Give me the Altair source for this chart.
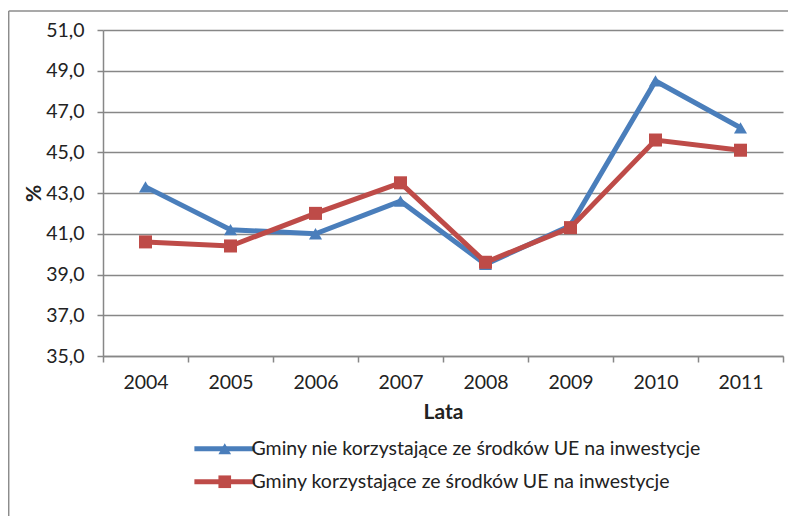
import altair as alt
import pandas as pd

years = ["2004", "2005", "2006", "2007", "2008", "2009", "2010", "2011"]
series_names = [
    "Gminy nie korzystające ze środków UE na inwestycje",
    "Gminy korzystające ze środków UE na inwestycje",
]
marker_keys = ["m1", "m2"]
blue_vals = [43.3, 41.2, 41.0, 42.6, 39.5, 41.4, 48.5, 46.2]
red_vals = [40.6, 40.4, 42.0, 43.5, 39.6, 41.3, 45.6, 45.1]
colors = ["#4A7EBB", "#BE4B48"]
shapes = ["triangle-up", "square"]

rows = []
for s, k, vals in zip(series_names, marker_keys, [blue_vals, red_vals]):
    for y, v in zip(years, vals):
        rows.append({"year": y, "value": v, "series": s, "marker": k})
df = pd.DataFrame(rows)

FONT = "Lato"
TXT = "#222222"
GRAY = "#878787"

x_enc = alt.X(
    "year:O",
    scale=alt.Scale(type="band", paddingInner=0, paddingOuter=0),
    axis=alt.Axis(
        title="Lata", labelAngle=0, tickBand="extent", tickSize=6,
        labelPadding=11, titleX=340, titleY=56, titleBaseline="middle",
        titleFontSize=21, titleFontWeight="bold",
    ),
)
y_enc = alt.Y(
    "value:Q",
    scale=alt.Scale(domain=[35, 51], nice=False, zero=False),
    axis=alt.Axis(
        title="%", values=[35, 37, 39, 41, 43, 45, 47, 49, 51],
        labelExpr="replace(format(datum.value, '.1f'), '.', ',')",
        tickSize=6, labelPadding=13, grid=True,
        titleX=-69, titleY=163, titleAngle=-90, titleAlign="center",
        titleBaseline="middle", titleFontSize=21, titleFontWeight="bold",
    ),
)

leg_common = dict(
    orient="none", legendX=112, legendY=409, title=None,
    symbolSize=160, labelFontSize=19.5, labelFont=FONT, labelColor=TXT,
    labelOffset=17, rowPadding=12, labelLimit=0,
)

lines = alt.Chart(df).mark_line(strokeWidth=5).encode(
    x=x_enc,
    y=y_enc,
    color=alt.Color(
        "series:N",
        scale=alt.Scale(domain=series_names, range=colors),
        legend=alt.Legend(symbolType="M-4.8,0H4.8", symbolStrokeWidth=5, **leg_common),
    ),
)

point_leg = dict(leg_common)
point_leg["labelExpr"] = "''"
points = alt.Chart(df).mark_point(filled=True, size=170, opacity=1).encode(
    x=x_enc,
    y=y_enc,
    fill=alt.Fill(
        "marker:N",
        scale=alt.Scale(domain=marker_keys, range=colors),
        legend=alt.Legend(**point_leg),
    ),
    shape=alt.Shape(
        "marker:N",
        scale=alt.Scale(domain=marker_keys, range=shapes),
        legend=alt.Legend(**point_leg),
    ),
)

frame_df = pd.DataFrame({"a": [0]})
frame_top = alt.Chart(frame_df).mark_rule(color="#8c8c8c", strokeWidth=1.5).encode(
    x=alt.value(-94.3), x2=alt.value(720), y=alt.value(-19)
)
frame_left = alt.Chart(frame_df).mark_rule(color="#8c8c8c", strokeWidth=1.5).encode(
    x=alt.value(-94.3), y=alt.value(-19), y2=alt.value(520)
)

chart = (
    alt.layer(frame_top, frame_left, lines, points)
    .properties(
        width=680, height=326,
        autosize=alt.AutoSizeParams(type="none"),
        padding={"left": 95, "top": 22, "right": 5, "bottom": 160},
    )
    .configure_view(stroke=None)
    .configure_axis(
        labelFont=FONT, titleFont=FONT, labelFontSize=19.5, labelColor=TXT,
        titleColor=TXT, domainColor=GRAY, tickColor=GRAY, gridColor=GRAY,
        domainWidth=1.5, tickWidth=1.5, gridWidth=1.5,
    )
    .configure_axisX(grid=False)
)

chart.save("out.html", embed_options={"renderer": "svg", "actions": False})
